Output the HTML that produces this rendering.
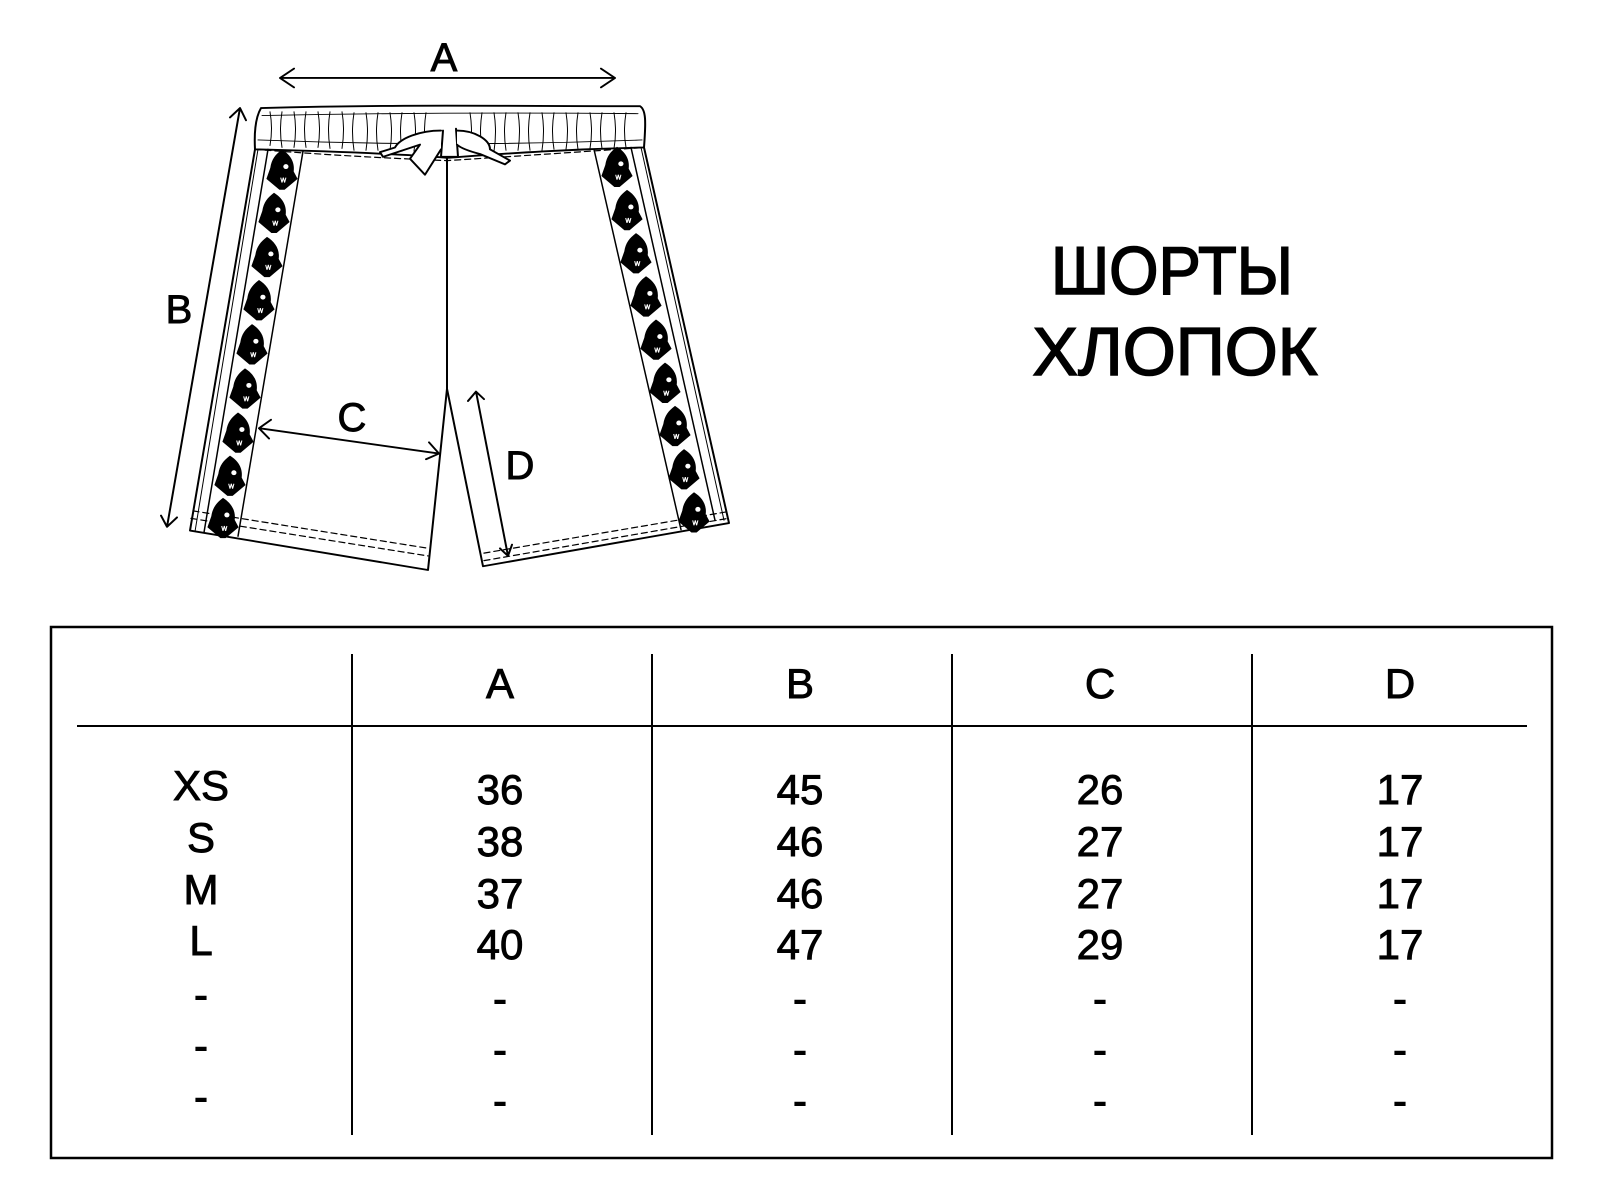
<!DOCTYPE html>
<html><head><meta charset="utf-8"><style>
html,body{margin:0;padding:0;background:#fff;}
svg{display:block;}
text{font-family:"Liberation Sans","DejaVu Sans",sans-serif;fill:#000;stroke:#000;stroke-width:0.9;}
</style></head><body>
<svg width="1601" height="1201" viewBox="0 0 1601 1201" xmlns="http://www.w3.org/2000/svg">
<defs>
<g id="logo" transform="scale(1.3)"><path d="M0,-16 C6,-12 10,-6 9,2 L12,8 L2,17 L-2,17 L-12,8 L-9,-1 C-8,-8 -5,-12 0,-16 Z" fill="#000"/><circle cx="3" cy="-2" r="2" fill="#fff"/><path d="M-1,7 l1,4 l1,-4 l1,4 l1,-4" stroke="#fff" stroke-width="0.8" fill="none"/></g>
</defs>
<text x="1172" y="294" font-size="68" text-anchor="middle" textLength="242" lengthAdjust="spacingAndGlyphs" style="stroke-width:1.6">ШОРТЫ</text>
<text x="1175" y="375" font-size="68" text-anchor="middle" textLength="285" lengthAdjust="spacingAndGlyphs" style="stroke-width:1.6">ХЛОПОК</text>

<g transform="translate(0,-0.9) scale(1,0.939)">
<g fill="none" stroke="#000" stroke-width="2" stroke-linecap="round" stroke-linejoin="round">
<path d="M261,116 C400,112 500,114 640,114 C646,118 646,130 644,158 C560,160 500,165 447,169 C400,165 330,162 255,160 C254,140 256,125 261,116 Z"/>
<path d="M262,124 Q450,120 638,122" stroke-width="1"/>
<path d="M258,150 Q450,158 642,150" stroke-width="1"/>
<g stroke-width="1">
<path d="M270,120q3,18 0,36M282,120q-3,19 0,38M294,120q3,19 0,38M306,120q-3,19 0,38M318,120q3,19 0,38M330,120q-3,19 0,39M342,120q3,19 0,39M354,121q-3,20 0,40M366,121q3,20 0,40M378,121q-3,20 0,40M390,121q3,20 0,40M402,121q-3,20 0,41M414,121q3,20 0,41M426,121q-3,20 0,41M470,121q3,20 0,41M482,121q-3,20 0,41M494,121q3,20 0,41M506,121q-3,20 0,40M518,121q3,20 0,40M530,121q-3,20 0,40M542,121q3,20 0,40M554,121q-3,20 0,39M566,121q3,20 0,39M578,121q-3,20 0,39M590,121q3,20 0,38M602,121q-3,20 0,38M614,121q3,20 0,38M626,121q-3,20 0,37"/>
</g>
<path d="M255,160 Q350,168 447,172 Q550,165 644,158" stroke-dasharray="6,4" stroke-width="1.3"/>
<path d="M255,160 L190,566 L428,608 L447,415 L447,169"/>
<path d="M447,415 L483,604 L729,558 L644,158"/>
<path d="M191,553 L428,593" stroke-dasharray="6,4" stroke-width="1.3"/>
<path d="M193,545 L429,585" stroke-dasharray="6,4" stroke-width="1.3"/>
<path d="M484,590 L727,546" stroke-dasharray="6,4" stroke-width="1.3"/>
<path d="M484,598 L728,553" stroke-dasharray="6,4" stroke-width="1.3"/>
<path d="M268,160 L204,568" stroke-width="1.5"/>
<path d="M258,160 L195,567" stroke-width="1"/>
<path d="M303,162 L238,572" stroke-width="1.5"/>
<path d="M594,160 L681,565" stroke-width="1.5"/>
<path d="M631,158 L715,555" stroke-width="1.5"/>
<path d="M641,158 L724,555" stroke-width="1"/>
<path d="M443,140 L441,168 L458,168 L456,138" fill="#fff"/>
<path d="M441,140 C420,140 400,148 395,158 L380,163 L383,168 L420,155 L410,170 L425,187 L441,160" fill="#fff"/>
<path d="M457,140 C475,140 490,150 490,160 L510,172 L505,176 L480,165 Q462,160 457,155" fill="#fff"/>
<path d="M447,169 L447,415" stroke-width="1.5"/>
</g>
<g>
<use href="#logo" x="282" y="181"/><use href="#logo" x="274" y="227"/><use href="#logo" x="267" y="274"/><use href="#logo" x="259" y="320"/><use href="#logo" x="252" y="367"/><use href="#logo" x="245" y="414"/><use href="#logo" x="238" y="461"/><use href="#logo" x="230" y="507"/><use href="#logo" x="223" y="552"/>
<use href="#logo" x="617" y="178"/><use href="#logo" x="627" y="224"/><use href="#logo" x="636" y="270"/><use href="#logo" x="646" y="316"/><use href="#logo" x="656" y="362"/><use href="#logo" x="665" y="408"/><use href="#logo" x="675" y="454"/><use href="#logo" x="684" y="500"/><use href="#logo" x="694" y="546"/>
</g>
<g fill="none" stroke="#000" stroke-width="2" stroke-linecap="round" stroke-linejoin="round">
<path d="M280,84 L615,84 M294,74 L280,84 L294,94 M601,74 L615,84 L601,94"/>
<path d="M240,116 L167,562 M230,126 L240,116 L246,129 M161,550 L167,562 L177,552"/>
<path d="M259,457 L439,484 M271,448 L259,457 L269,468 M429,472 L439,484 L426,490"/>
<path d="M476,418 L508,593 M468,428 L476,418 L484,426 M500,585 L508,593 L512,581"/>
</g>
</g>
<text x="444" y="71" font-size="40" text-anchor="middle">A</text>
<text x="179" y="323" font-size="40" text-anchor="middle">B</text>
<text x="352" y="431" font-size="40" text-anchor="middle">C</text>
<text x="520" y="479" font-size="40" text-anchor="middle">D</text>

<rect x="51" y="627" width="1501" height="531" fill="none" stroke="#000" stroke-width="2.5"/>
<g stroke="#000" stroke-width="2">
<line x1="77" y1="726" x2="1527" y2="726"/>
<line x1="352" y1="654" x2="352" y2="1135"/>
<line x1="652" y1="654" x2="652" y2="1135"/>
<line x1="952" y1="654" x2="952" y2="1135"/>
<line x1="1252" y1="654" x2="1252" y2="1135"/>
</g>
<g font-size="42" text-anchor="middle">
<text x="500" y="698">A</text><text x="800" y="698">B</text><text x="1100" y="698">C</text><text x="1400" y="698">D</text>
<text x="201" y="800">XS</text><text x="201" y="852">S</text><text x="201" y="904">M</text><text x="201" y="955">L</text>
<text x="201" y="1009">-</text><text x="201" y="1060">-</text><text x="201" y="1111">-</text>
<text x="500" y="804">36</text><text x="500" y="856">38</text><text x="500" y="908">37</text><text x="500" y="959">40</text>
<text x="500" y="1013">-</text><text x="500" y="1064">-</text><text x="500" y="1115">-</text>
<text x="800" y="804">45</text><text x="800" y="856">46</text><text x="800" y="908">46</text><text x="800" y="959">47</text>
<text x="800" y="1013">-</text><text x="800" y="1064">-</text><text x="800" y="1115">-</text>
<text x="1100" y="804">26</text><text x="1100" y="856">27</text><text x="1100" y="908">27</text><text x="1100" y="959">29</text>
<text x="1100" y="1013">-</text><text x="1100" y="1064">-</text><text x="1100" y="1115">-</text>
<text x="1400" y="804">17</text><text x="1400" y="856">17</text><text x="1400" y="908">17</text><text x="1400" y="959">17</text>
<text x="1400" y="1013">-</text><text x="1400" y="1064">-</text><text x="1400" y="1115">-</text>
</g>
</svg>
</body></html>
